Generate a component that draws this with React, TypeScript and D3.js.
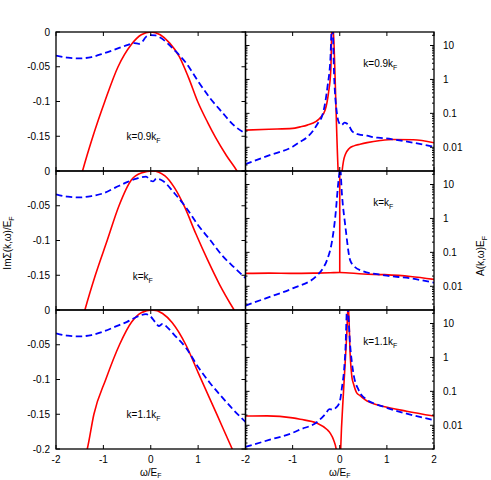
import React, { useEffect, useRef } from 'react';
import * as d3 from 'd3';

// ---- data: [omega/E_F, value] ----
// left column: Im Sigma(k,w)/E_F
const sigmaRed09: [number, number][] = [
  [-1.5, -0.215], [-1.44, -0.2], [-1.22, -0.15], [-0.97, -0.1], [-0.69, -0.05], [-0.41, -0.018],
  [-0.2, -0.004], [0, 0], [0.2, -0.004], [0.4, -0.016], [0.6, -0.035], [0.8, -0.066],
  [0.99, -0.1], [1.2, -0.13], [1.37, -0.152], [1.6, -0.178], [1.82, -0.2], [1.9, -0.21],
];
const sigmaBlue09: [number, number][] = [
  [-2, -0.034], [-1.75, -0.037], [-1.5, -0.038], [-1.25, -0.036], [-1, -0.031], [-0.75, -0.025],
  [-0.5, -0.019], [-0.35, -0.016], [-0.25, -0.017], [-0.18, -0.014], [-0.1, -0.007], [0, -0.0045],
  [0.1, -0.005], [0.2, -0.008], [0.35, -0.016], [0.5, -0.026], [0.75, -0.045], [1, -0.071],
  [1.25, -0.095], [1.5, -0.115], [1.75, -0.134], [2, -0.146],
];
const sigmaRed10: [number, number][] = [
  [-1.45, -0.215], [-1.39, -0.2], [-1.17, -0.15], [-0.92, -0.1], [-0.67, -0.05], [-0.41, -0.013],
  [-0.2, -0.003], [0.04, 0], [0.3, -0.007], [0.5, -0.024], [0.71, -0.051], [0.95, -0.09],
  [1.2, -0.128], [1.45, -0.163], [1.76, -0.2], [1.85, -0.21],
];
const sigmaBlue10: [number, number][] = [
  [-2, -0.0335], [-1.75, -0.037], [-1.5, -0.038], [-1.25, -0.036], [-1, -0.032], [-0.75, -0.024],
  [-0.5, -0.016], [-0.3, -0.011], [-0.1, -0.008], [0, -0.014], [0.05, -0.015], [0.12, -0.011],
  [0.25, -0.014], [0.5, -0.032], [0.75, -0.053], [1, -0.078], [1.25, -0.099], [1.5, -0.121],
  [1.75, -0.138], [2, -0.154],
];
const sigmaRed11: [number, number][] = [
  [-1.4, -0.215], [-1.34, -0.2], [-1.2, -0.15], [-0.95, -0.1], [-0.66, -0.05], [-0.4, -0.017],
  [-0.2, -0.004], [0.03, 0], [0.25, -0.005], [0.45, -0.018], [0.74, -0.05], [1.0, -0.09],
  [1.4, -0.151], [1.72, -0.2], [1.8, -0.212],
];
const sigmaBlue11: [number, number][] = [
  [-2, -0.0335], [-1.75, -0.037], [-1.5, -0.038], [-1.25, -0.036], [-1, -0.031], [-0.75, -0.024],
  [-0.5, -0.017], [-0.25, -0.0086], [-0.1, -0.006], [0, -0.0096], [0.1, -0.018], [0.17, -0.023],
  [0.25, -0.02], [0.35, -0.025], [0.5, -0.036], [0.75, -0.055], [1, -0.082], [1.25, -0.105],
  [1.5, -0.125], [1.75, -0.144], [2, -0.161],
];

// right column: A(k,w) E_F (log scale)
const specRed09: [number, number][] = [
  [-2, 0.032], [-1.5, 0.034], [-1, 0.036], [-0.84, 0.04], [-0.69, 0.045], [-0.5, 0.058],
  [-0.4, 0.078], [-0.31, 0.125], [-0.24, 0.39], [-0.19, 1.9], [-0.16, 60], [-0.03, 0.0015],
  [0, 0.0003], [0.05, 0.002], [0.08, 0.004], [0.12, 0.0062], [0.2, 0.0092], [0.3, 0.011],
  [0.43, 0.0123], [0.58, 0.0137], [0.86, 0.0158], [1.14, 0.017], [1.56, 0.0167], [2, 0.0136],
];
const specBlue09: [number, number][] = [
  [-2, 0.0032], [-1.5, 0.0058], [-1, 0.0104], [-0.84, 0.0145], [-0.69, 0.02], [-0.55, 0.033],
  [-0.45, 0.055], [-0.38, 0.08], [-0.34, 0.125], [-0.26, 0.61], [-0.2, 3.7], [-0.16, 60],
  [-0.116, 0.96], [-0.06, 0.1], [-0.01, 0.051], [0.04, 0.045], [0.1, 0.053], [0.15, 0.05],
  [0.2, 0.042], [0.26, 0.03], [0.4, 0.024], [0.58, 0.022], [0.72, 0.0196], [0.86, 0.019],
  [1.14, 0.017], [1.56, 0.0136], [2, 0.0104],
];
const specRed10: [number, number][] = [
  [-2, 0.024], [-1.5, 0.0245], [-1, 0.024], [-0.5, 0.0245], [-0.2, 0.025], [0, 0.0255],
  [0.5, 0.023], [0.95, 0.022], [1.5, 0.0195], [2, 0.016],
];
const specSpike10: [number, number][] = [[0, 0.0255], [0, 100]];
const specBlue10: [number, number][] = [
  [-2, 0.0027], [-1.5, 0.0048], [-1, 0.0087], [-0.48, 0.021], [-0.35, 0.035], [-0.27, 0.059],
  [-0.16, 0.23], [-0.095, 1.1], [-0.025, 13.5], [0.01, 30], [0.045, 5.5], [0.12, 0.57],
  [0.22, 0.059], [0.3, 0.04], [0.43, 0.03], [0.95, 0.021], [1.52, 0.017], [2, 0.0127],
];
const specRed11: [number, number][] = [
  [-2, 0.0187], [-1.54, 0.019], [-1, 0.0165], [-0.84, 0.015], [-0.48, 0.0115], [-0.27, 0.0075],
  [-0.2, 0.0058], [-0.13, 0.0037], [-0.07, 0.0018], [0, 0.0002], [0.02, 0.002], [0.08, 0.1],
  [0.15, 5.1], [0.18, 40], [0.22, 1.3], [0.26, 0.25], [0.29, 0.17], [0.36, 0.09], [0.43, 0.075],
  [0.58, 0.052], [0.75, 0.042], [0.93, 0.036], [1.42, 0.026], [2, 0.0187],
];
const specBlue11: [number, number][] = [
  [-2, 0.0023], [-1.5, 0.0037], [-1, 0.006], [-0.84, 0.0075], [-0.48, 0.0125], [-0.3, 0.022],
  [-0.22, 0.03], [-0.15, 0.029], [-0.08, 0.033], [0, 0.05], [0.05, 0.14], [0.09, 0.4],
  [0.12, 1.6], [0.16, 40], [0.22, 2.3], [0.29, 0.34], [0.4, 0.11], [0.58, 0.056], [0.75, 0.043],
  [0.93, 0.035], [1.42, 0.022], [2, 0.0142],
];

const kLabels = ['k=0.9k', 'k=k', 'k=1.1k'];
// label anchors in data coords: [omega, ImSigma] left, [omega, A] right
const sigmaLabelAt: [number, number][] = [[-0.51, -0.155], [-0.38, -0.157], [-0.51, -0.155]];
const specLabelAt: [number, number][] = [[0.5, 2.4], [0.71, 2.3], [0.5, 2.3]];

const sigmaTicks = [0, -0.05, -0.1, -0.15, -0.2];
const specTicks = [10, 1, 0.1, 0.01];
const omegaTicks = [-2, -1, 0, 1, 2];

const rows = [
  { sRed: sigmaRed09, sBlue: sigmaBlue09, aRed: specRed09, aBlue: specBlue09, spike: null as [number, number][] | null },
  { sRed: sigmaRed10, sBlue: sigmaBlue10, aRed: specRed10, aBlue: specBlue10, spike: specSpike10 },
  { sRed: sigmaRed11, sBlue: sigmaBlue11, aRed: specRed11, aBlue: specBlue11, spike: null },
];

const W = 491;
const H = 480;
const FONT = "'Liberation Sans', Arial, sans-serif";

export default function App() {
  const ref = useRef<SVGSVGElement>(null);

  useEffect(() => {
    const svg = d3.select(ref.current);
    svg.selectAll('*').remove();

    const top0 = 32;
    const rowH = 139;
    const xL = d3.scaleLinear().domain([-2, 2]).range([56, 245.5]);
    const xR = d3.scaleLinear().domain([-2, 2]).range([245.5, 434]);
    const defs = svg.append('defs');

    const addSub = (t: any, main: string, sub: string, dy = 3) => {
      t.append('tspan').text(main);
      t.append('tspan').attr('font-size', 7).attr('dy', dy).text(sub);
    };

    rows.forEach((row, i) => {
      const top = top0 + i * rowH;
      const bot = top + rowH;
      const yS = d3.scaleLinear().domain([-0.2, 0]).range([bot, top]);
      const yA = d3.scaleLog().domain([0.002, 25]).range([bot, top]);
      const last = i === rows.length - 1;

      // clip paths
      defs.append('clipPath').attr('id', `cl${i}`).append('rect')
        .attr('x', xL(-2)).attr('y', top).attr('width', xL(2) - xL(-2)).attr('height', rowH);
      defs.append('clipPath').attr('id', `cr${i}`).append('rect')
        .attr('x', xR(-2)).attr('y', top).attr('width', xR(2) - xR(-2)).attr('height', rowH);

      const lineS = d3.line<[number, number]>().x(d => xL(d[0])).y(d => yS(d[1])).curve(d3.curveMonotoneX);
      const lineA = d3.line<[number, number]>().x(d => xR(d[0])).y(d => yA(d[1])).curve(d3.curveMonotoneX);
      const lineSpike = d3.line<[number, number]>().x(d => xR(d[0])).y(d => yA(d[1]));

      const gl = svg.append('g').attr('clip-path', `url(#cl${i})`);
      gl.append('path').attr('d', lineS(row.sRed)!).attr('fill', 'none')
        .attr('stroke', '#ff0000').attr('stroke-width', 1.6);
      gl.append('path').attr('d', lineS(row.sBlue)!).attr('fill', 'none')
        .attr('stroke', '#0000ff').attr('stroke-width', 1.8).attr('stroke-dasharray', '6.5,3.5');

      const gr = svg.append('g').attr('clip-path', `url(#cr${i})`);
      gr.append('path').attr('d', lineA(row.aRed)!).attr('fill', 'none')
        .attr('stroke', '#ff0000').attr('stroke-width', 1.6);
      if (row.spike) {
        gr.append('path').attr('d', lineSpike(row.spike)!).attr('fill', 'none')
          .attr('stroke', '#ff0000').attr('stroke-width', 1.6);
      }
      gr.append('path').attr('d', lineA(row.aBlue)!).attr('fill', 'none')
        .attr('stroke', '#0000ff').attr('stroke-width', 1.8).attr('stroke-dasharray', '6.5,3.5');

      const ticks = svg.append('g').attr('stroke', '#000').attr('stroke-width', 1);
      // left panel y ticks (both sides)
      sigmaTicks.forEach(v => {
        const y = yS(v);
        ticks.append('line').attr('x1', xL(-2)).attr('x2', xL(-2) + 4).attr('y1', y).attr('y2', y);
        ticks.append('line').attr('x1', xL(2)).attr('x2', xL(2) - 4).attr('y1', y).attr('y2', y);
      });
      // right panel log ticks (both sides), minor too
      for (let e = -3; e <= 1; e++) {
        for (let m = 1; m <= 9; m++) {
          const v = m * Math.pow(10, e);
          if (v < 0.002 || v > 25) continue;
          const len = m === 1 ? 4 : 2;
          const y = yA(v);
          ticks.append('line').attr('x1', xR(2)).attr('x2', xR(2) - len).attr('y1', y).attr('y2', y);
          ticks.append('line').attr('x1', xR(-2)).attr('x2', xR(-2) + len).attr('y1', y).attr('y2', y);
        }
      }
      // x ticks top and bottom
      omegaTicks.forEach(w => {
        [xL(w), xR(w)].forEach(x => {
          ticks.append('line').attr('x1', x).attr('x2', x).attr('y1', top).attr('y2', top + 4);
          ticks.append('line').attr('x1', x).attr('x2', x).attr('y1', bot).attr('y2', bot - 4);
        });
      });

      // frames
      svg.append('rect').attr('x', xL(-2)).attr('y', top).attr('width', xL(2) - xL(-2)).attr('height', rowH)
        .attr('fill', 'none').attr('stroke', '#000').attr('stroke-width', 1.3);
      svg.append('rect').attr('x', xR(-2)).attr('y', top).attr('width', xR(2) - xR(-2)).attr('height', rowH)
        .attr('fill', 'none').attr('stroke', '#000').attr('stroke-width', 1.3);

      const txt = svg.append('g').attr('font-family', FONT).attr('font-size', 10).attr('fill', '#000');
      // left y tick labels
      sigmaTicks.filter(v => last || v > -0.2).forEach(v => {
        txt.append('text').attr('x', xL(-2) - 6).attr('y', yS(v) + 3.6).attr('text-anchor', 'end')
          .text(v === 0 ? '0' : String(v));
      });
      // right y tick labels
      specTicks.forEach(v => {
        txt.append('text').attr('x', xR(2) + 9).attr('y', yA(v) + 3.6).text(String(v));
      });
      // panel labels
      const tl = txt.append('text').attr('x', xL(sigmaLabelAt[i][0])).attr('y', yS(sigmaLabelAt[i][1]));
      addSub(tl, kLabels[i], 'F');
      const tr = txt.append('text').attr('x', xR(specLabelAt[i][0])).attr('y', yA(specLabelAt[i][1]));
      addSub(tr, kLabels[i], 'F');

      if (last) {
        omegaTicks.forEach(w => {
          if (w < 2) {
            txt.append('text').attr('x', xL(w)).attr('y', bot + 14).attr('text-anchor', 'middle').text(String(w));
          }
          txt.append('text').attr('x', xR(w)).attr('y', bot + 14).attr('text-anchor', 'middle').text(String(w));
        });
        const xl1 = txt.append('text').attr('x', xL(0)).attr('y', bot + 26.5).attr('text-anchor', 'middle');
        addSub(xl1, 'ω/E', 'F', 2.5);
        const xl2 = txt.append('text').attr('x', xR(0)).attr('y', bot + 26.5).attr('text-anchor', 'middle');
        addSub(xl2, 'ω/E', 'F', 2.5);
      }
    });

    const lab = svg.append('g').attr('font-family', FONT).attr('font-size', 10).attr('fill', '#000');
    const yl = lab.append('text').attr('transform', 'translate(11,243) rotate(-90)').attr('text-anchor', 'middle');
    addSub(yl, 'ImΣ(k,ω)/E', 'F');
    const yr = lab.append('text').attr('transform', 'translate(484,256) rotate(-90)').attr('text-anchor', 'middle');
    addSub(yr, 'A(k,ω)E', 'F');
  }, []);

  return (
    <svg
      ref={ref}
      width={W}
      height={H}
      style={{ position: 'absolute', left: 0, top: 0, background: '#fff' }}
    />
  );
}
